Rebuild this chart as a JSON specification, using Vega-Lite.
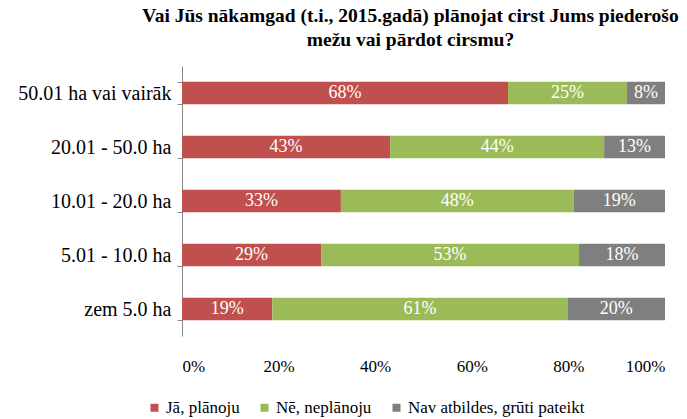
{
  "$schema": "https://vega.github.io/schema/vega-lite/v6.json",
  "width": 483,
  "height": 270,
  "autosize": {"type": "none"},
  "padding": {"left": 182, "top": 66, "right": 22, "bottom": 83},
  "background": "white",
  "config": {
    "font": "Liberation Serif",
    "view": {"stroke": null}
  },
  "title": {
    "text": ["Vai Jūs nākamgad (t.i.,  2015.gadā) plānojat cirst Jums piederošo", "mežu vai pārdot cirsmu?"],
    "font": "Liberation Serif",
    "fontSize": 19.5,
    "fontWeight": "bold",
    "color": "black",
    "anchor": "middle",
    "dx": -13,
    "offset": 6,
    "lineHeight": 24
  },
  "data": {
    "values": [
      {"cat": "50.01 ha vai vairāk", "ans": "Jā, plānoju", "k": 1, "v": 0.675},
      {"cat": "50.01 ha vai vairāk", "ans": "Nē, neplānoju", "k": 2, "v": 0.246},
      {"cat": "50.01 ha vai vairāk", "ans": "Nav atbildes,  grūti  pateikt", "k": 3, "v": 0.079},
      {"cat": "20.01 - 50.0 ha", "ans": "Jā, plānoju", "k": 1, "v": 0.431},
      {"cat": "20.01 - 50.0 ha", "ans": "Nē, neplānoju", "k": 2, "v": 0.443},
      {"cat": "20.01 - 50.0 ha", "ans": "Nav atbildes,  grūti  pateikt", "k": 3, "v": 0.126},
      {"cat": "10.01 - 20.0 ha", "ans": "Jā, plānoju", "k": 1, "v": 0.329},
      {"cat": "10.01 - 20.0 ha", "ans": "Nē, neplānoju", "k": 2, "v": 0.482},
      {"cat": "10.01 - 20.0 ha", "ans": "Nav atbildes,  grūti  pateikt", "k": 3, "v": 0.189},
      {"cat": "5.01 - 10.0 ha", "ans": "Jā, plānoju", "k": 1, "v": 0.288},
      {"cat": "5.01 - 10.0 ha", "ans": "Nē, neplānoju", "k": 2, "v": 0.534},
      {"cat": "5.01 - 10.0 ha", "ans": "Nav atbildes,  grūti  pateikt", "k": 3, "v": 0.178},
      {"cat": "zem 5.0 ha", "ans": "Jā, plānoju", "k": 1, "v": 0.187},
      {"cat": "zem 5.0 ha", "ans": "Nē, neplānoju", "k": 2, "v": 0.611},
      {"cat": "zem 5.0 ha", "ans": "Nav atbildes,  grūti  pateikt", "k": 3, "v": 0.202}
    ]
  },
  "transform": [
    {"stack": "v", "groupby": ["cat"], "sort": [{"field": "k", "order": "ascending"}], "as": ["v0", "v1"]},
    {"calculate": "(datum.v0 + datum.v1) / 2", "as": "mid"}
  ],
  "encoding": {
    "y": {
      "field": "cat",
      "type": "nominal",
      "sort": ["50.01 ha vai vairāk", "20.01 - 50.0 ha", "10.01 - 20.0 ha", "5.01 - 10.0 ha", "zem 5.0 ha"],
      "scale": {"paddingInner": 0.58, "paddingOuter": 0.29},
      "axis": {
        "title": null,
        "tickBand": "extent",
        "domainColor": "#868686",
        "tickColor": "#868686",
        "tickSize": 5,
        "labelFont": "Liberation Serif",
        "labelFontSize": 20,
        "labelColor": "black",
        "labelPadding": 6
      }
    }
  },
  "layer": [
    {
      "mark": {"type": "bar"},
      "encoding": {
        "x": {
          "field": "v0",
          "type": "quantitative",
          "scale": {"domain": [0, 1], "nice": false},
          "axis": {
            "title": null,
            "format": ".0%",
            "values": [0, 0.2, 0.4, 0.6, 0.8, 1],
            "grid": false,
            "domain": false,
            "ticks": false,
            "labelFont": "Liberation Serif",
            "labelFontSize": 17,
            "labelColor": "black",
            "labelPadding": 22
          }
        },
        "x2": {"field": "v1"},
        "color": {
          "field": "ans",
          "type": "nominal",
          "scale": {
            "domain": ["Jā, plānoju", "Nē, neplānoju", "Nav atbildes,  grūti  pateikt"],
            "range": ["#C0504D", "#9BBB59", "#7F7F7F"]
          },
          "legend": {
            "title": null,
            "orient": "none",
            "direction": "horizontal",
            "legendX": -36,
            "legendY": 333,
            "symbolType": "square",
            "symbolSize": 64,
            "symbolStrokeWidth": 0,
            "labelFont": "Liberation Serif",
            "labelFontSize": 17,
            "labelColor": "black",
            "labelLimit": 300,
            "columnPadding": 16,
            "labelOffset": 3
          }
        }
      }
    },
    {
      "mark": {"type": "text", "color": "white", "font": "Liberation Serif", "fontSize": 18, "baseline": "middle", "align": "center"},
      "encoding": {
        "x": {"field": "mid", "type": "quantitative"},
        "text": {"field": "v", "type": "quantitative", "format": ".0%"}
      }
    }
  ]
}
